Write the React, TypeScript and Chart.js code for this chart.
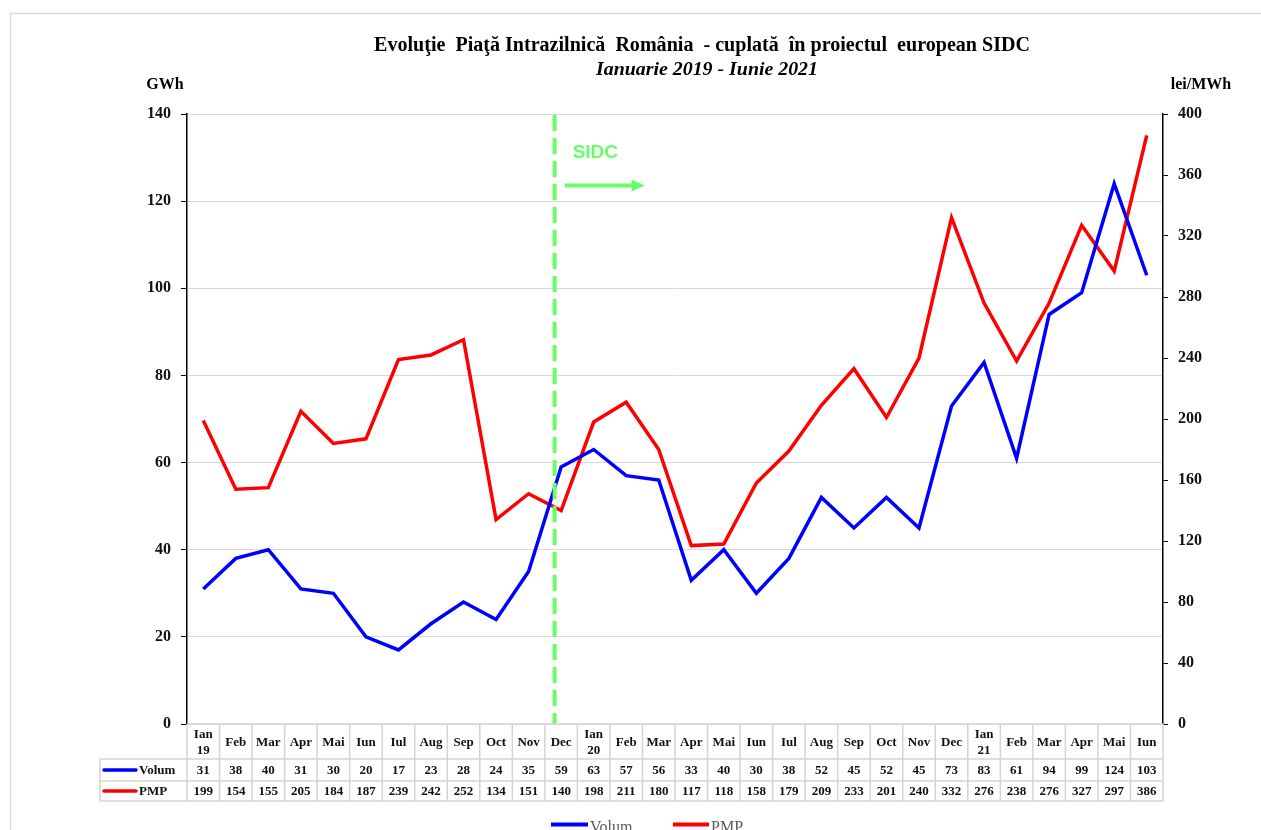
import React, { useEffect, useRef } from "react";
import { Chart, registerables } from "chart.js";

Chart.register(...registerables);

const months: string[] = [
  "Ian\n19", "Feb", "Mar", "Apr", "Mai", "Iun", "Iul", "Aug", "Sep", "Oct", "Nov", "Dec",
  "Ian\n20", "Feb", "Mar", "Apr", "Mai", "Iun", "Iul", "Aug", "Sep", "Oct", "Nov", "Dec",
  "Ian\n21", "Feb", "Mar", "Apr", "Mai", "Iun",
];
const volum: number[] = [31, 38, 40, 31, 30, 20, 17, 23, 28, 24, 35, 59, 63, 57, 56, 33, 40, 30, 38, 52, 45, 52, 45, 73, 83, 61, 94, 99, 124, 103];
const pmp: number[] = [199, 154, 155, 205, 184, 187, 239, 242, 252, 134, 151, 140, 198, 211, 180, 117, 118, 158, 179, 209, 233, 201, 240, 332, 276, 238, 276, 327, 297, 386];

const seriesNames: string[] = ["Volum", "PMP"];
const seriesColors: string[] = ["#0000FF", "#FF0000"];

const titleText = "Evoluţie  Piaţă Intrazilnică  România  - cuplată  în proiectul  european SIDC";
const subtitleText = "Ianuarie 2019 - Iunie 2021";
const leftUnit = "GWh";
const rightUnit = "lei/MWh";
const markerLabel = "SIDC";
const markerPosition = 10.8; // category position of the SIDC start line

const SERIF = "'Liberation Serif', 'Times New Roman', serif";
const SANS = "'Liberation Sans', Arial, sans-serif";
const GREEN = "#66FF66";
const TABLE_LINE = "#d4d4d4";

const W = 1261;
const H = 830;

const decorPlugin = {
  id: "decor",
  afterDatasetsDraw(chart: any) {
    const ctx: CanvasRenderingContext2D = chart.ctx;
    const area = chart.chartArea;
    const x = chart.scales.x;
    ctx.save();
    // SIDC dashed line
    const p0 = x.getPixelForValue(Math.floor(markerPosition));
    const p1 = x.getPixelForValue(Math.floor(markerPosition) + 1);
    const lx = p0 + (p1 - p0) * (markerPosition - Math.floor(markerPosition));
    ctx.strokeStyle = GREEN;
    ctx.lineWidth = 4;
    ctx.setLineDash([16, 7]);
    ctx.beginPath();
    ctx.moveTo(lx, area.top + 1);
    ctx.lineTo(lx, area.bottom);
    ctx.stroke();
    ctx.setLineDash([]);
    // label
    ctx.fillStyle = GREEN;
    ctx.font = `bold 19px ${SANS}`;
    ctx.textAlign = "left";
    ctx.textBaseline = "middle";
    ctx.fillText(markerLabel, lx + 18, 153);
    // arrow
    const ay = 185.5;
    const ax0 = lx + 10;
    const ax1 = lx + 90;
    ctx.lineWidth = 4;
    ctx.beginPath();
    ctx.moveTo(ax0, ay);
    ctx.lineTo(ax1 - 10, ay);
    ctx.stroke();
    ctx.beginPath();
    ctx.moveTo(ax1, ay);
    ctx.lineTo(ax1 - 13, ay - 6);
    ctx.lineTo(ax1 - 13, ay + 6);
    ctx.closePath();
    ctx.fill();
    ctx.restore();
  },
  afterDraw(chart: any) {
    const ctx: CanvasRenderingContext2D = chart.ctx;
    const area = chart.chartArea;
    const x = chart.scales.x;
    ctx.save();

    // outer frame (left & top)
    ctx.strokeStyle = "#d9d9d9";
    ctx.lineWidth = 1.5;
    ctx.beginPath();
    ctx.moveTo(10.5, H + 5);
    ctx.lineTo(10.5, 13.5);
    ctx.lineTo(W + 5, 13.5);
    ctx.stroke();

    // titles
    ctx.fillStyle = "#000";
    ctx.textAlign = "center";
    ctx.textBaseline = "middle";
    ctx.font = `bold 20px ${SERIF}`;
    const tw = ctx.measureText(titleText).width;
    const targetW = 656;
    ctx.save();
    ctx.translate(702, 46);
    ctx.scale(targetW / tw, 1);
    ctx.fillText(titleText, 0, 0);
    ctx.restore();
    ctx.font = `italic bold 19px ${SERIF}`;
    const sw = ctx.measureText(subtitleText).width;
    ctx.save();
    ctx.translate(707, 70);
    ctx.scale(222 / sw, 1);
    ctx.fillText(subtitleText, 0, 0);
    ctx.restore();

    // axis units
    ctx.font = `bold 16px ${SERIF}`;
    ctx.fillText(leftUnit, 165, 85);
    ctx.fillText(rightUnit, 1201, 85);

    // data table
    const n = months.length;
    const cw = (area.right - area.left) / n;
    const top = area.bottom;
    const r1 = 759;
    const r2 = 781;
    const r3 = 801;
    const tableLeft = 100;
    ctx.strokeStyle = TABLE_LINE;
    ctx.lineWidth = 1.5;
    ctx.beginPath();
    ctx.moveTo(area.left, top);
    ctx.lineTo(area.right, top);
    for (const yy of [r1, r2, r3]) {
      ctx.moveTo(tableLeft, yy);
      ctx.lineTo(area.right, yy);
    }
    ctx.moveTo(tableLeft, r1);
    ctx.lineTo(tableLeft, r3);
    for (let i = 0; i <= n; i++) {
      const xx = area.left + i * cw;
      ctx.moveTo(xx, top);
      ctx.lineTo(xx, r3);
    }
    ctx.stroke();

    ctx.fillStyle = "#111";
    ctx.font = `bold 13px ${SERIF}`;
    ctx.textAlign = "center";
    ctx.textBaseline = "middle";
    for (let i = 0; i < n; i++) {
      const cx = x.getPixelForValue(i);
      const lines = months[i].split("\n");
      if (lines.length === 1) {
        ctx.fillText(lines[0], cx, (top + r1) / 2 + 1);
      } else {
        ctx.fillText(lines[0], cx, top + 11);
        ctx.fillText(lines[1], cx, top + 27);
      }
      ctx.fillText(String(volum[i]), cx, (r1 + r2) / 2 + 1);
      ctx.fillText(String(pmp[i]), cx, (r2 + r3) / 2 + 1);
    }
    // row headers
    const rows = [(r1 + r2) / 2, (r2 + r3) / 2];
    rows.forEach((ry, k) => {
      ctx.strokeStyle = seriesColors[k];
      ctx.lineWidth = 3.5;
      ctx.lineCap = "round";
      ctx.beginPath();
      ctx.moveTo(104, ry);
      ctx.lineTo(136, ry);
      ctx.stroke();
      ctx.fillStyle = "#111";
      ctx.textAlign = "left";
      ctx.fillText(seriesNames[k], 139, ry + 1);
    });

    // bottom legend
    ctx.lineCap = "butt";
    const legendItems = [
      { x0: 551, x1: 588, tx: 590 },
      { x0: 673, x1: 709, tx: 711 },
    ];
    legendItems.forEach((it, k) => {
      ctx.strokeStyle = seriesColors[k];
      ctx.lineWidth = 4;
      ctx.beginPath();
      ctx.moveTo(it.x0, 824.5);
      ctx.lineTo(it.x1, 824.5);
      ctx.stroke();
      ctx.fillStyle = "#595959";
      ctx.font = `16px ${SERIF}`;
      ctx.textAlign = "left";
      ctx.textBaseline = "alphabetic";
      ctx.fillText(seriesNames[k], it.tx, 832);
    });

    ctx.restore();
  },
};

export default function App() {
  const ref = useRef<HTMLCanvasElement | null>(null);
  useEffect(() => {
    if (!ref.current) return;
    const tickFont = { family: SERIF, size: 16, weight: "bold" as const };
    const chart = new Chart(ref.current, {
      type: "line",
      data: {
        labels: months.map((m) => m.replace("\n", " ")),
        datasets: [
          {
            label: seriesNames[0],
            data: volum,
            borderColor: seriesColors[0],
            backgroundColor: seriesColors[0],
            borderWidth: 3.5,
            pointRadius: 0,
            tension: 0,
            yAxisID: "y",
          },
          {
            label: seriesNames[1],
            data: pmp,
            borderColor: seriesColors[1],
            backgroundColor: seriesColors[1],
            borderWidth: 3.5,
            pointRadius: 0,
            tension: 0,
            yAxisID: "y1",
          },
        ],
      },
      options: {
        animation: false,
        responsive: false,
        devicePixelRatio: 1,
        layout: { padding: { top: 114, bottom: H - 724, left: 0, right: 0 } },
        plugins: {
          legend: { display: false },
          title: { display: false },
          tooltip: { enabled: false },
        },
        scales: {
          x: { type: "category", display: false, offset: true },
          y: {
            position: "left",
            min: 0,
            max: 140,
            ticks: { stepSize: 20, font: tickFont, color: "#111", padding: 10 },
            grid: { color: "#d9d9d9", lineWidth: 1, tickColor: "#000", tickLength: 6 },
            border: { color: "#000", width: 1.5 },
            afterFit: (s: any) => {
              s.width = 187;
            },
          },
          y1: {
            position: "right",
            min: 0,
            max: 400,
            ticks: { stepSize: 40, font: tickFont, color: "#111", padding: 10 },
            grid: { drawOnChartArea: false, tickColor: "#000", tickLength: 5 },
            border: { color: "#000", width: 1.5 },
            afterFit: (s: any) => {
              s.width = W - 1163;
            },
          },
        },
      },
      plugins: [decorPlugin],
    });
    return () => chart.destroy();
  }, []);
  return (
    <div style={{ position: "fixed", left: 0, top: 0, width: W, height: H, background: "#fff" }}>
      <canvas ref={ref} width={W} height={H} style={{ display: "block", width: W, height: H }} />
    </div>
  );
}
